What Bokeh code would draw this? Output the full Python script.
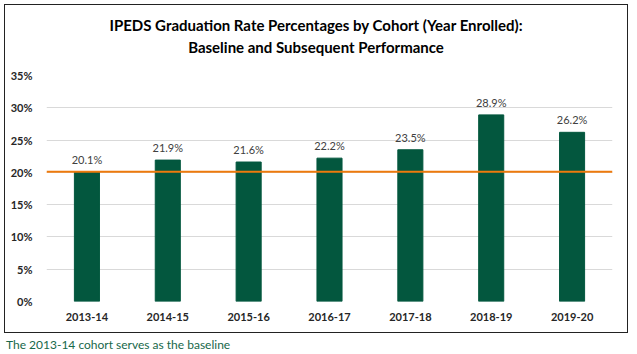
from bokeh.plotting import figure
from bokeh.models import ColumnDataSource, Span, NumeralTickFormatter, Div, LabelSet, FixedTicker
from bokeh.core.properties import value
from bokeh.layouts import column
from bokeh.embed import file_html
from bokeh.resources import INLINE

cohorts = ["2013-14", "2014-15", "2015-16", "2016-17", "2017-18", "2018-19", "2019-20"]
rates = [20.1, 21.9, 21.6, 22.2, 23.5, 28.9, 26.2]
labels = ["20.1%", "21.9%", "21.6%", "22.2%", "23.5%", "28.9%", "26.2%"]
baseline = 20.1
y_ticks = [0, 5, 10, 15, 20, 25, 30, 35]
title_lines = ["IPEDS Graduation Rate Percentages by Cohort (Year Enrolled):",
               "Baseline and Subsequent Performance"]
caption_text = "The 2013-14 cohort serves as the baseline"

FONT = "Lato"
GREEN = "#03573E"

src = ColumnDataSource(dict(x=cohorts, y=[r / 100 for r in rates], lab=labels))

title = Div(text="<br>".join(title_lines), width=622, height=54, margin=0,
            styles={"font-family": FONT, "font-size": "15px", "font-weight": "bold",
                    "color": "#000", "text-align": "center", "line-height": "22px",
                    "padding-top": "9px", "box-sizing": "border-box"})

p = figure(x_range=cohorts, y_range=(0, 0.35), width=622, height=273,
           output_backend="svg", toolbar_location=None,
           min_border_left=41, min_border_right=15, min_border_top=16, min_border_bottom=31,
           margin=0)

p.vbar(x="x", top="y", width=0.31, source=src, color=GREEN)
p.add_layout(Span(location=baseline / 100, dimension="width", line_color="#EE7A0C", line_width=2))
p.add_layout(LabelSet(x="x", y="y", text="lab", source=src, text_align="center",
                      text_baseline="bottom", y_offset=6, text_font_size="11px",
                      text_color="#404040", text_font=value(FONT)))

p.yaxis.ticker = FixedTicker(ticks=[v / 100 for v in y_ticks])
p.yaxis.formatter = NumeralTickFormatter(format="0%")
for ax in (p.xaxis[0], p.yaxis[0]):
    ax.axis_line_color = None
    ax.major_tick_line_color = None
    ax.minor_tick_line_color = None
    ax.major_label_text_font = FONT
    ax.major_label_text_font_size = "11px"
    ax.major_label_text_font_style = "bold"
    ax.major_label_text_color = "#262626"
p.yaxis.major_label_standoff = 8
p.xaxis.major_label_standoff = 5
p.xgrid.grid_line_color = None
p.ygrid.grid_line_color = "#D9D9D9"
p.outline_line_color = None

box = column(title, p, spacing=0, margin=(4, 0, 0, 4),
             styles={"border": "1px solid #222"})

caption = Div(text=caption_text, margin=(3, 0, 0, 6),
              styles={"color": "#17684A", "font-family": FONT, "font-size": "12px"})

layout = column(box, caption, spacing=0)
open("out.html", "w").write(file_html(layout, INLINE))
